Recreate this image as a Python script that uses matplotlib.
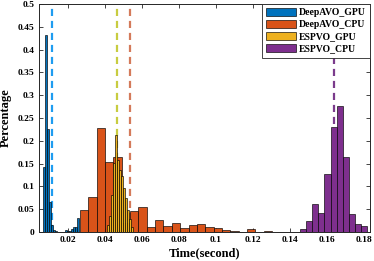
# histogram of per-frame run time for DeepAVO / ESPVO on GPU and CPU
# mean times drawn as dashed lines

import matplotlib
matplotlib.use('AGG')
import matplotlib.pyplot as plt
import numpy as np
from matplotlib.ticker import FuncFormatter

#%% data

labels = ['DeepAVO_GPU', 'DeepAVO_CPU', 'ESPVO_GPU', 'ESPVO_CPU']
colors = ['#0072BD', '#D95319', '#EDB120', '#7E2F8E']
line_colors = ['#1f9cf0', '#d47a5a', '#c8cc40', '#7b3b8c']

# first bin edge and bin width (second) for each series
bin_start = [0.00646, 0.02634, 0.04113, 0.14551]
bin_width = [0.001067, 0.00452, 0.001084, 0.0033]

deepavo_gpu = [0.142, 0.432, 0.226, 0.066, 0.015, 0.004, 0.002, 0.001, 0.001,
               0.000, 0.001, 0.004, 0.002, 0.003, 0.006, 0.010, 0.012, 0.030]
deepavo_cpu = [0.048, 0.076, 0.228, 0.154, 0.164, 0.020, 0.045, 0.055, 0.010,
               0.026, 0.014, 0.020, 0.008, 0.016, 0.017, 0.010, 0.008, 0.005,
               0.002, 0.001, 0.006, 0.001, 0.002, 0.0005, 0.001]
espvo_gpu = [0.015, 0.035, 0.081, 0.151, 0.213, 0.158, 0.136, 0.122, 0.096,
             0.074, 0.048, 0.028, 0.012]
espvo_cpu = [0.006, 0.024, 0.061, 0.042, 0.127, 0.231, 0.277, 0.164, 0.040,
             0.018, 0.014]
series = [deepavo_gpu, deepavo_cpu, espvo_gpu, espvo_cpu]

# mean time of each method
mean_time = [0.01116, 0.05321, 0.04651, 0.16413]

xticks = [0.02, 0.04, 0.06, 0.08, 0.1, 0.12, 0.14, 0.16, 0.18]
yticks = [0, 0.05, 0.1, 0.15, 0.2, 0.25, 0.3, 0.35, 0.4, 0.45, 0.5]

#%% plot
plt.rcParams['font.family'] = 'Liberation Serif'
plt.rcParams['font.weight'] = 'bold'

fig = plt.figure(figsize=(3.74, 2.61), dpi=100)
ax = fig.add_axes([38.5/374, 29/261, 331.5/374, 228/261])

for mm in range(len(labels)):
    ax.axvline(mean_time[mm], color=line_colors[mm], linewidth=1.6,
               linestyle=(0, (3.2, 2.2)), zorder=1)

for mm in range(len(labels)):
    h = np.array(series[mm])
    edges = bin_start[mm] + bin_width[mm]*np.arange(len(h))
    ax.bar(edges, h, width=bin_width[mm], align='edge', color=colors[mm],
           edgecolor=(0, 0, 0, 0.75), linewidth=0.6, label=labels[mm], zorder=2)

ax.set_xlim(0.00386, 0.1834)
ax.set_ylim(0, 0.5)
ax.set_xticks(xticks)
ax.set_yticks(yticks)
ax.xaxis.set_major_formatter(FuncFormatter(lambda v, p: '%g' % v))
ax.yaxis.set_major_formatter(FuncFormatter(lambda v, p: '%g' % v))
ax.tick_params(direction='in', length=3, width=0.6, labelsize=6.8, pad=3,
               top=True, right=True, color='#262626')
for s in ax.spines.values():
    s.set_linewidth(0.7)
    s.set_color('#262626')

ax.set_xlabel('Time(second)', fontsize=9, fontweight='bold', labelpad=2)
ax.set_ylabel('Percentage', fontsize=9, fontweight='bold', labelpad=4)

leg = ax.legend(loc='upper right', fontsize=7, borderaxespad=0, fancybox=False,
                framealpha=1, edgecolor='#262626', handlelength=3.1,
                handleheight=0.85, labelspacing=0.3, handletextpad=0.3,
                borderpad=0.4)
leg.get_frame().set_linewidth(0.6)

fig.savefig('out.png', dpi=100)
